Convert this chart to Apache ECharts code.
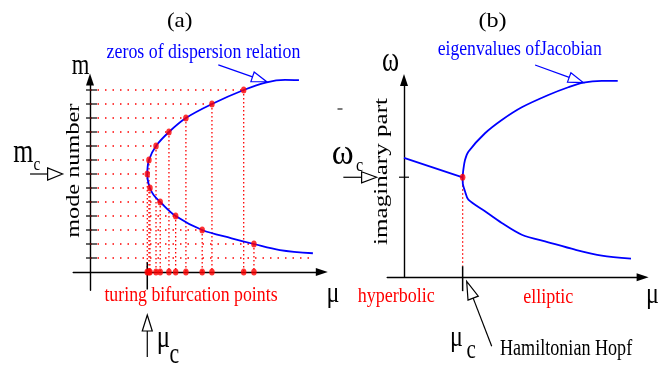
<!DOCTYPE html>
<html>
<head>
<meta charset="utf-8">
<script src="https://cdn.jsdelivr.net/npm/echarts@6/dist/echarts.min.js"></script>
<style>
html, body { margin: 0; padding: 0; background: #fff; }
#main { width: 670px; height: 366px; }
</style>
</head>
<body>
<div id="main"></div>
<script>
// ---- panel (a): mode number m against control parameter mu ----
const modeNumbers = [13, 12, 11, 10, 9, 8, 7, 6, 5, 4, 3, 2];
const onsetMu = [9.15, 7.26, 5.71, 4.70, 3.93, 3.51, 3.41, 3.57, 4.18, 5.10, 6.68, 9.76];
const tickModes = [1, 2, 3, 4, 5, 6, 7, 8, 9, 10, 11, 12, 13];
const dispersionCurve = [
    [12.44, 13.7], [11.61, 13.72], [10.52, 13.55], [9.15, 13], [7.26, 12], [5.71, 11],
    [4.70, 10], [3.93, 9], [3.51, 8], [3.41, 7], [3.45, 6.5], [3.57, 6], [3.81, 5.46],
    [4.18, 5], [5.10, 4], [6.68, 3], [8.43, 2.41], [9.76, 2], [11.31, 1.57], [13.27, 1.34]
];
const lowestRow = { m: 1, muEnd: 13.27 };
const muCritA = 3.41;
const modeCrit = 7;

// ---- panel (b): imaginary part omega against mu ----
const hopfMu = 3.49;
const omegaCrit = 7;
const leftBranch = [[0, 8.35], [3.49, 7.0]];
const upperBranch = [
    [3.49, 7.0], [3.53, 7.51], [3.63, 8.21], [3.83, 8.79], [4.82, 10.08], [5.82, 11.01],
    [7.01, 11.9], [8.59, 12.76], [9.78, 13.3], [10.67, 13.62], [11.77, 13.74], [12.72, 13.74]
];
const lowerBranch = [
    [3.49, 7.0], [3.5, 6.55], [3.63, 6.02], [3.83, 5.43], [4.82, 4.62], [5.82, 3.8],
    [7.01, 2.98], [8.59, 2.45], [10.18, 1.93], [11.77, 1.51], [13.51, 1.3]
];

const RED = '#ff0000';
const BLUE = '#0000ff';

const chart = echarts.init(document.getElementById('main'), null, { renderer: 'canvas' });

const axisLine = {
    show: true,
    onZero: true,
    symbol: ['none', 'triangle'],
    symbolSize: [8, 12],
    lineStyle: { color: '#000', width: 1.4 }
};
const bare = {
    type: 'value',
    axisLine: axisLine,
    axisTick: { show: false },
    axisLabel: { show: false },
    splitLine: { show: false }
};

const series = [];
const seg = (grid, pts, color, width, type, clip) => series.push({
    type: 'line', xAxisIndex: grid, yAxisIndex: grid, data: pts, symbol: 'none',
    silent: true, animation: false, clip: clip !== false,
    lineStyle: { color: color, width: width, type: type || 'solid' }
});

// dotted guides in (a)
modeNumbers.forEach((m, i) => {
    seg(0, [[0, m], [onsetMu[i], m]], RED, 1.3, [1.5, 6]);
    seg(0, [[onsetMu[i], m], [onsetMu[i], 0]], RED, 1.3, [1.5, 2.5]);
});
seg(0, [[0, lowestRow.m], [lowestRow.muEnd, lowestRow.m]], RED, 1.3, [1.5, 6]);

// curve (a)
series.push({
    type: 'line', xAxisIndex: 0, yAxisIndex: 0, data: dispersionCurve, symbol: 'none',
    smooth: 0.35, animation: false, lineStyle: { color: BLUE, width: 1.8 }
});
// critical tick on mu axis (a)
seg(0, [[muCritA, 0.7], [muCritA, -1.25]], '#000', 1.5);

// tick marks on m axis
series.push({
    type: 'scatter', xAxisIndex: 0, yAxisIndex: 0, animation: false, silent: true, z: 6,
    data: tickModes.map(m => [0, m]), symbol: 'rect', symbolSize: [11, 1.5],
    symbolOffset: [1.5, 0], itemStyle: { color: '#000' }
});
// dots on curve and on axis
series.push({
    type: 'scatter', xAxisIndex: 0, yAxisIndex: 0, animation: false, z: 5,
    data: modeNumbers.map((m, i) => [onsetMu[i], m]).concat(onsetMu.map(u => [u, 0])),
    symbolSize: [5.5, 7], itemStyle: { color: RED }
});

// panel (b)
seg(1, [[hopfMu, omegaCrit], [hopfMu, 0.8]], RED, 1.3, [1.5, 2.5]);
seg(1, leftBranch, BLUE, 1.8);
series.push({
    type: 'line', xAxisIndex: 1, yAxisIndex: 1, data: upperBranch, symbol: 'none',
    smooth: 0.3, animation: false, lineStyle: { color: BLUE, width: 1.8 }
});
series.push({
    type: 'line', xAxisIndex: 1, yAxisIndex: 1, data: lowerBranch, symbol: 'none',
    smooth: 0.3, animation: false, lineStyle: { color: BLUE, width: 1.8 }
});
seg(1, [[hopfMu, 0.78], [hopfMu, -0.97]], '#000', 1.5, 'solid', false);
series.push({
    type: 'scatter', xAxisIndex: 1, yAxisIndex: 1, animation: false, silent: true, z: 6,
    data: [[0, omegaCrit]], symbol: 'rect', symbolSize: [10, 1.5],
    itemStyle: { color: '#000' }
});
series.push({
    type: 'scatter', xAxisIndex: 1, yAxisIndex: 1, animation: false, z: 5,
    data: [[hopfMu, omegaCrit]], symbolSize: [5.5, 7], itemStyle: { color: RED }
});

const option = {
    backgroundColor: '#fff',
    animation: false,
    grid: [
        { left: 73.2, top: 79.5, width: 248.6, height: 210.7, outerBoundsMode: 'none' },
        { left: 387.2, top: 80.1, width: 255.4, height: 197.2, outerBoundsMode: 'none' }
    ],
    xAxis: [
        Object.assign({}, bare, { gridIndex: 0, min: -1, max: 13.8 }),
        Object.assign({}, bare, { gridIndex: 1, min: -1, max: 14.2 })
    ],
    yAxis: [
        Object.assign({}, bare, { gridIndex: 0, min: -1.3, max: 13.75 }),
        Object.assign({}, bare, { gridIndex: 1, min: 0, max: 13.8 })
    ],
    series: series
};
chart.setOption(option);

// ---- annotations ----
const arrowsA = [
    { from: [7.64, 14.79], to: [10.52, 13.59], color: BLUE, len: 15, half: 5 },
    { from: [-3.57, modeCrit], to: [-1.63, modeCrit], color: '#000', len: 15, half: 6 },
    { from: [muCritA, -6.07], to: [muCritA, -3.07], color: '#000', len: 16, half: 5 }
];
const arrowsB = [
    { from: [7.8, 14.86], to: [10.67, 13.63], color: BLUE, len: 15, half: 5 },
    { from: [-3.61, omegaCrit], to: [-1.63, omegaCrit], color: '#000', len: 15, half: 5.5 },
    { from: [5.22, -4.83], to: [3.73, -0.28], color: '#000', len: 18, half: 5.5 }
];

function arrow(grid, a) {
    const p = chart.convertToPixel({ gridIndex: grid }, a.from);
    const q = chart.convertToPixel({ gridIndex: grid }, a.to);
    const dx = q[0] - p[0], dy = q[1] - p[1], d = Math.hypot(dx, dy);
    const ux = dx / d, uy = dy / d;
    const b = [q[0] - ux * a.len, q[1] - uy * a.len];
    return [
        { type: 'polyline', shape: { points: [p, b] }, style: { stroke: a.color, lineWidth: 1.2, fill: null } },
        { type: 'polygon', shape: { points: [q, [b[0] - uy * a.half, b[1] + ux * a.half], [b[0] + uy * a.half, b[1] - ux * a.half]] },
          style: { stroke: a.color, fill: '#fff', lineWidth: 1.2 } }
    ];
}

function label(text, x, base, size, color, sx, align, rot) {
    const el = {
        type: 'text', x: x, y: rot ? base : base - 0.34 * size, scaleX: sx, z: 10,
        style: {
            text: text, fontSize: size, fontFamily: '"Liberation Serif", serif',
            fill: color, align: align || 'center', verticalAlign: 'middle'
        }
    };
    if (rot) el.rotation = rot;
    return el;
}

const graphics = [].concat(
    ...arrowsA.map(a => arrow(0, a)),
    ...arrowsB.map(a => arrow(1, a)),
    [
        label('(a)', 179.7, 29, 22, '#000', 1.05),
        label('(b)', 492.5, 29, 22, '#000', 1.1),
        label('zeros of dispersion relation', 203.5, 59.3, 21, BLUE, 0.85),
        label('eigenvalues ofJacobian', 519.7, 56.7, 20.5, BLUE, 0.86),
        label('turing bifurcation points', 191, 303, 22, RED, 0.81),
        label('hyperbolic', 396.3, 304, 22, RED, 0.82),
        label('elliptic', 548.3, 304.5, 22, RED, 0.82),
        label('Hamiltonian Hopf', 500, 357.3, 23.5, '#000', 0.77, 'left'),
        label('m', 80.5, 76.7, 29, '#000', 0.78),
        label('m', 13.3, 165, 33, '#000', 0.78, 'left'),
        label('c', 33.5, 171.7, 18, '#000', 0.85, 'left'),
        label('mode number', 74.7, 170.7, 18, '#000', 1.35, 'center', Math.PI / 2),
        label('imaginary part', 382, 171.5, 19, '#000', 1.32, 'center', Math.PI / 2),
        label('\u03bc', 333, 304.5, 30, '#000', 0.8),
        label('\u03bc', 156.7, 349.7, 31, '#000', 0.8, 'left'),
        label('c', 169.5, 365, 29, '#000', 0.75, 'left'),
        label('\u03bc', 450, 348.5, 30, '#000', 0.8, 'left'),
        label('c', 466.5, 359.7, 28, '#000', 0.75, 'left'),
        label('\u03bc', 652.5, 305, 30, '#000', 0.8),
        label('\u03c9', 390.5, 73.5, 35, '#000', 0.74),
        label('\u03c9', 331.7, 166.7, 35, '#000', 0.95, 'left'),
        label('c', 356, 172, 19, '#000', 0.85, 'left'),
        { type: 'line', shape: { x1: 337.5, y1: 109, x2: 342.5, y2: 109 }, style: { stroke: '#333', lineWidth: 1.3 } }
    ]
);

chart.setOption({ graphic: graphics });
</script>
</body>
</html>
